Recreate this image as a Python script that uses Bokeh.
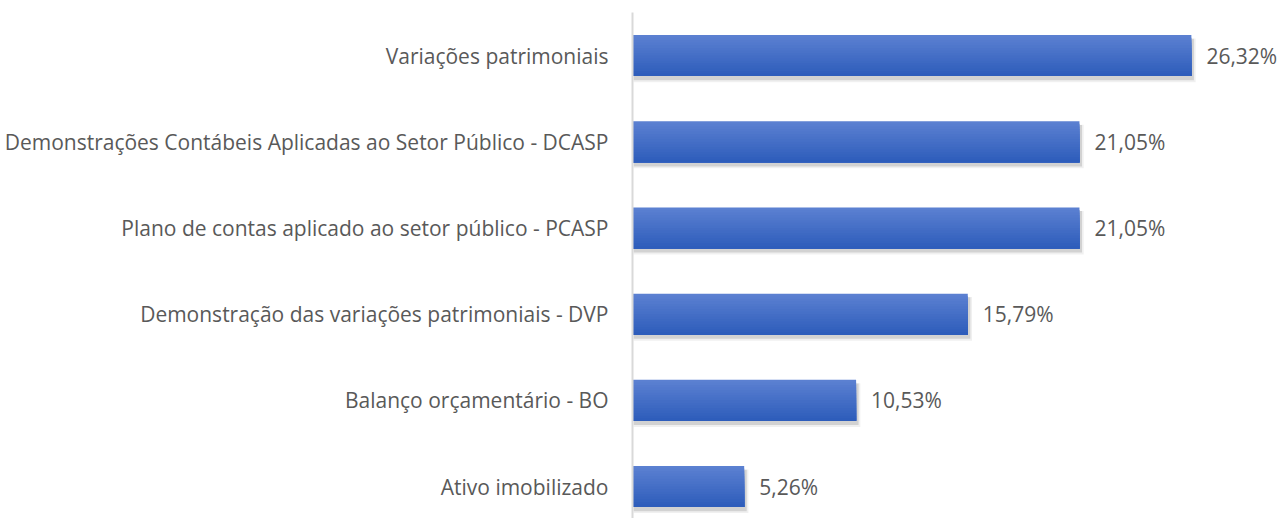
from bokeh.plotting import figure
from bokeh.models import Range1d, ColumnDataSource
from bokeh.embed import file_html
from bokeh.resources import INLINE
from bokeh.core.properties import value

categories = [
    "Ativo imobilizado",
    "Balanço orçamentário - BO",
    "Demonstração das variações patrimoniais - DVP",
    "Plano de contas aplicado ao setor público - PCASP",
    "Demonstrações Contábeis Aplicadas ao Setor Público - DCASP",
    "Variações patrimoniais",
]
values = [5.26, 10.53, 15.79, 21.05, 21.05, 26.32]

FONT = "Open Sans"
TXT = "#595959"

ys = list(range(len(categories)))
labels = [f"{v:.2f}".replace(".", ",") + "%" for v in values]

p = figure(width=1279, height=518, output_backend="svg", toolbar_location=None,
           x_range=Range1d(0, 30.47), y_range=Range1d(-0.371, 5.5),
           min_border_left=632, min_border_right=0, min_border_top=12, min_border_bottom=0)
p.outline_line_color = None
p.xgrid.visible = False
p.ygrid.visible = False
p.xaxis.visible = False
p.background_fill_color = "white"

H = 0.476
# soft shadow
p.hbar(y=[y - 0.055 for y in ys], left=0.05, right=[v + 0.2 for v in values], height=H + 0.03,
       fill_color="black", fill_alpha=0.06, line_color=None)
p.hbar(y=[y - 0.045 for y in ys], left=0.05, right=[v + 0.12 for v in values], height=H + 0.005,
       fill_color="black", fill_alpha=0.12, line_color=None)

# gradient bars: layered from the top colour down, each layer reaching the bar bottom
top = (0x5B, 0x80, 0xD1)
bot = (0x2E, 0x5D, 0xBB)
N = 16
for i in range(N):
    t = i / (N - 1)
    c = tuple(round(top[k] + (bot[k] - top[k]) * t) for k in range(3))
    col = "#%02x%02x%02x" % c
    frac = 1 - i / N
    p.hbar(y=[y - H / 2 + H * frac / 2 for y in ys], left=0, right=values,
           height=H * frac, fill_color=col, line_color=None)

src = ColumnDataSource(dict(x=values, y=ys, t=labels))
p.text(x="x", y="y", text="t", source=src, x_offset=15, text_baseline="middle",
       text_align="left", text_font=value(FONT), text_font_size="21px", text_color=TXT)

ax = p.yaxis[0]
ax.ticker = ys
ax.major_label_overrides = {y: c for y, c in zip(ys, categories)}
ax.major_label_text_font = FONT
ax.major_label_text_font_size = "21px"
ax.major_label_text_color = TXT
ax.major_tick_line_color = None
ax.minor_tick_line_color = None
ax.major_label_standoff = 18
ax.axis_line_color = "#D9D9D9"
ax.axis_line_width = 2

open("out.html", "w").write(file_html(p, INLINE))
